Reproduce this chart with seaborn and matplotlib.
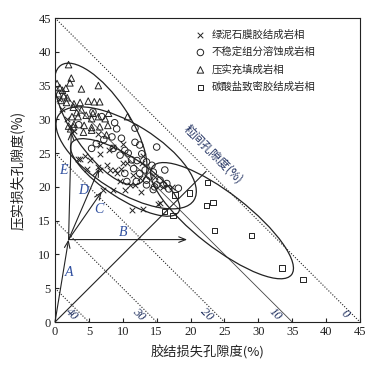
import numpy as np
import pandas as pd
import matplotlib
matplotlib.use("Agg")
import matplotlib.pyplot as plt
from matplotlib.patches import Ellipse
import seaborn as sns

# ------------------------
# Data
# ------------------------
tri_x = [2.0, 2.4, 2.2, 0.3, 3.9, 6.4, 0.7, 1.1, 1.6, 0.5, 1.3, 1.8, 0.9, 1.7, 2.8, 3.7, 4.9, 5.8, 6.6,
         2.7, 3.2, 3.9, 5.6, 7.9, 2.5, 3.4, 4.6, 5.4, 6.4, 7.4, 10.7, 4.3, 5.4, 6.6, 7.8, 2.7, 4.2, 5.4,
         7.6, 2.3, 2.0, 2.8]
tri_y = [38.1, 36.1, 35.4, 35.3, 34.5, 35.0, 34.7, 34.3, 34.6, 33.8, 33.5, 33.2, 32.8, 32.5, 32.3, 32.5,
         32.7, 32.6, 32.6, 31.8, 31.0, 31.4, 30.9, 30.9, 30.4, 30.4, 30.6, 30.1, 30.4, 30.1, 30.4, 29.1,
         28.8, 28.9, 29.1, 28.9, 28.1, 28.4, 27.7, 28.6, 29.0, 29.3]

circ_x = [11.8, 9.1, 8.4, 6.1, 5.4, 8.6, 11.8, 12.5, 15.0, 10.3, 10.8, 12.8, 9.6, 11.3, 12.1, 13.5, 14.3,
          11.6, 13.3, 16.2, 12.5, 14.5, 10.3, 14.0, 13.5, 15.5, 12.0, 10.6, 16.5, 18.2, 15.0, 13.5, 14.7,
          16.0, 14.5, 16.8, 5.6, 6.9, 8.8, 3.5, 7.2, 9.8]
circ_y = [28.7, 28.6, 27.4, 26.4, 25.7, 25.7, 26.6, 26.2, 25.9, 25.4, 25.0, 24.9, 24.7, 24.0, 23.9, 23.7,
          23.2, 22.7, 22.5, 22.5, 22.0, 22.2, 22.0, 21.6, 21.0, 21.0, 20.8, 20.8, 20.5, 19.8, 20.3, 20.3,
          20.0, 20.3, 19.6, 19.7, 31.1, 30.4, 29.5, 29.2, 27.0, 27.2]

cross_x = [6.6, 7.9, 6.6, 10.6, 9.8, 11.5, 8.1, 5.2, 4.7, 3.7, 9.1, 11.1, 9.6, 12.5, 15.5, 6.4, 7.1, 8.6,
           10.3, 11.8, 12.7, 11.3, 13.0, 15.2, 17.2, 3.4, 7.6, 8.8, 6.6, 8.6, 6.4, 10.1, 13.0, 12.8, 10.1,
           14.7, 16.0, 4.4, 2.8, 1.8, 1.0, 0.6]
cross_y = [26.2, 25.4, 24.9, 23.5, 22.7, 21.7, 22.5, 24.0, 22.7, 24.2, 22.0, 20.3, 20.8, 21.3, 17.6, 23.0,
           19.5, 19.5, 19.5, 20.3, 19.3, 16.6, 16.7, 17.5, 20.0, 24.2, 23.2, 22.5, 22.5, 25.9, 27.9, 26.4,
           24.5, 23.5, 23.5, 21.5, 20.0, 24.5, 28.3, 30.0, 31.5, 33.0]

sq_x = [22.5, 19.8, 22.3, 23.3, 23.5, 29.0, 33.5, 36.6, 17.7, 17.4, 16.2]
sq_y = [20.6, 19.1, 17.3, 17.7, 13.6, 12.8, 8.0, 6.3, 18.8, 15.8, 16.3]

facies = ["绿泥石膜胶结成岩相", "不稳定组分溶蚀成岩相", "压实充填成岩相", "碳酸盐致密胶结成岩相"]

# intergranular porosity iso-lines (x + y = 45 - P)
iso_levels = [40, 30, 20, 10, 0]

# diagenetic paths: start, end, label
path_start = [(0, 0), (2.0, 12.2), (2.0, 12.2), (2.0, 12.2), (2.0, 12.2)]
path_end = [(2.0, 12.2), (19.5, 12.2), (6.9, 19.3), (6.5, 22.7), (2.4, 28.2)]
path_label = ["A", "B", "C", "D", "E"]
path_label_xy = [(2.0, 7.4), (10.1, 13.2), (6.4, 16.7), (4.1, 19.5), (1.2, 22.5)]

# envelopes (triangle, circle, cross, square): center, width, height, angle
env_center = [(6.75, 29.3), (10.5, 24.3), (10.35, 21.4), (24.65, 15.0)]
env_width = [21.0, 23.6, 18.8, 26.0]
env_height = [8.4, 10.0, 6.2, 8.0]
env_angle = [-56, -32, -33, -38]

# ------------------------
# Figure
# ------------------------
sns.set_style("ticks")
plt.rcParams["font.family"] = ["Liberation Serif", "Noto Sans CJK SC"]
plt.rcParams["axes.linewidth"] = 0.8

fig = plt.figure(figsize=(3.76, 3.66), dpi=100)
ax = fig.add_axes([0.1463, 0.1202, 0.8111, 0.8306])

cjk = ["Noto Sans CJK SC", "DejaVu Sans"]
ink = "#222222"
blue = "#2f4f9f"

# iso-porosity lines
for p in iso_levels:
    t = 45 - p
    if p == 10:
        ax.plot([0, t], [t, 0], color="#444444", lw=0.6, zorder=1)
    else:
        ax.plot([0, t], [t, 0], color=ink, lw=0.8, ls=(0, (1, 1.5)), zorder=1)
    ax.text(t - 2.6 if p else t - 2.3, 1.1, str(p), rotation=-45, fontsize=9,
            style="italic", color="#1f2f5f", ha="center", va="center")

ax.text(23.3, 24.8, "粒间孔隙度(%)", rotation=-45, fontsize=8.5, color="#1f2f5f",
        ha="center", va="center", family=cjk)

# y = x reference line
ax.plot([0, 22.3], [0, 22.3], color=ink, lw=0.8, zorder=1)

# paths
for s, e in zip(path_start, path_end):
    ax.annotate("", xy=e, xytext=s,
                arrowprops=dict(arrowstyle="->,head_length=0.5,head_width=0.2",
                                lw=0.8, color=ink, shrinkA=0, shrinkB=0))
for lab, (lx, ly) in zip(path_label, path_label_xy):
    ax.text(lx, ly, lab, fontsize=10, style="italic", color=blue, ha="center", va="center")

# envelopes
for c, w, h, a in zip(env_center, env_width, env_height, env_angle):
    ax.add_patch(Ellipse(c, w, h, angle=a, fill=False, ec=ink, lw=0.9, zorder=2))

# points
df_cross = pd.DataFrame({"x": cross_x, "y": cross_y})
df_circ = pd.DataFrame({"x": circ_x, "y": circ_y})
df_tri = pd.DataFrame({"x": tri_x, "y": tri_y})
df_sq = pd.DataFrame({"x": sq_x, "y": sq_y})

sns.scatterplot(data=df_cross, x="x", y="y", marker="x", s=16, color=ink, linewidth=0.7,
                ax=ax, label=facies[0], zorder=3)
sns.scatterplot(data=df_circ, x="x", y="y", marker="o", s=22, facecolors="none", edgecolor=ink,
                linewidth=0.7, ax=ax, label=facies[1], zorder=3)
sns.scatterplot(data=df_tri, x="x", y="y", marker="^", s=22, facecolors="none", edgecolor=ink,
                linewidth=0.7, ax=ax, label=facies[2], zorder=3)
sns.scatterplot(data=df_sq, x="x", y="y", marker="s", s=14, facecolors="none", edgecolor=ink,
                linewidth=0.7, ax=ax, label=facies[3], zorder=3)

leg = ax.legend(loc="upper left", bbox_to_anchor=(0.446, 0.975), frameon=False,
                prop={"family": cjk, "size": 7.5}, handlelength=1.0, handletextpad=0.6,
                labelspacing=0.68, borderaxespad=0)

ax.set_xlim(0, 45)
ax.set_ylim(0, 45)
ax.set_xticks(range(0, 46, 5))
ax.set_yticks(range(0, 46, 5))
ax.tick_params(direction="in", length=3, width=0.8, labelsize=9, colors=ink, pad=3)
ax.set_xlabel("胶结损失孔隙度(%)", family=cjk, fontsize=9.5, color=ink, labelpad=5)
ax.set_ylabel("压实损失孔隙度(%)", family=cjk, fontsize=10, color=ink, labelpad=10)
for sp in ax.spines.values():
    sp.set_color(ink)

fig.savefig("out.png", dpi=100)
